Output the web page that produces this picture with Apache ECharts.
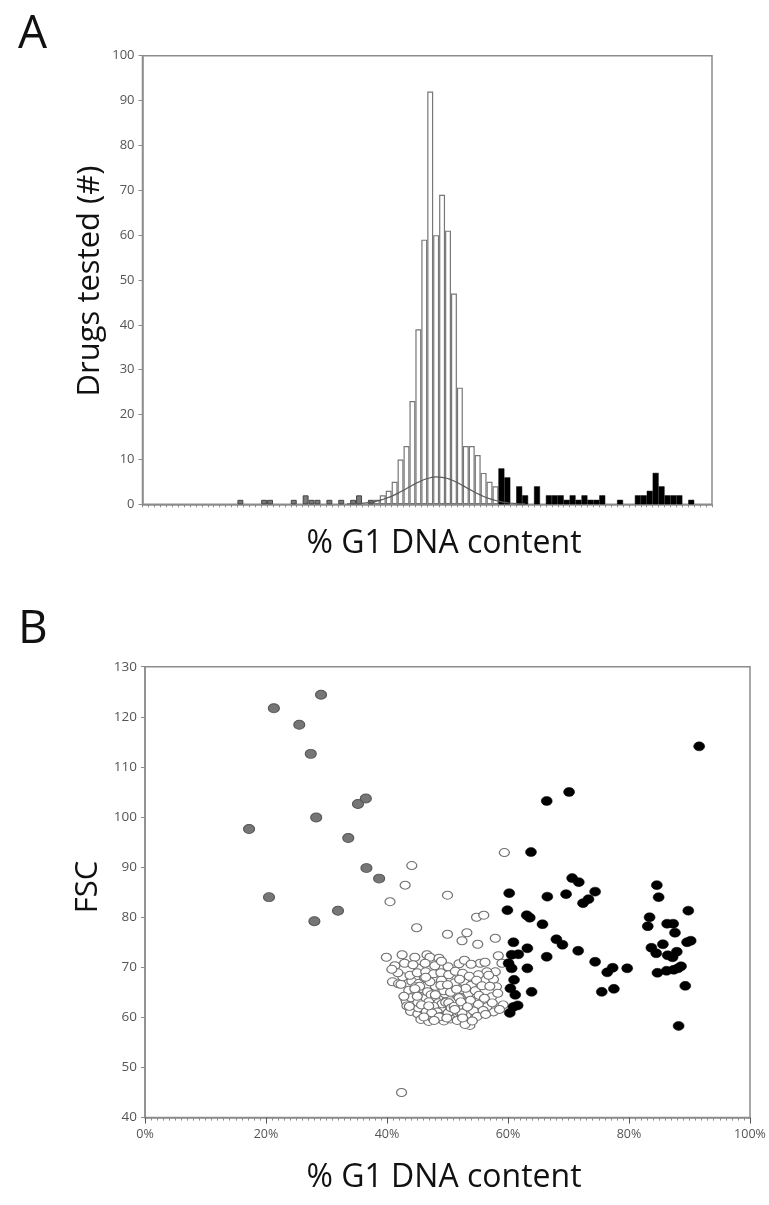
<!DOCTYPE html>
<html>
<head>
<meta charset="utf-8">
<script src="https://cdn.jsdelivr.net/npm/echarts@6/dist/echarts.min.js"></script>
<style>
html, body { margin: 0; padding: 0; background: #fff; }
#chart { width: 769px; height: 1205px; }
</style>
</head>
<body>
<div id="chart"></div>
<script>
// panel A: histogram, 1% bins, [bin, count]
var binCount = 96;
var grayBins = [[16, 1], [20, 1], [21, 1], [25, 1], [27, 2], [28, 1], [29, 1], [31, 1], [33, 1], [35, 1], [36, 2], [38, 1]];
var whiteBins = [[39, 1], [40, 2], [41, 3], [42, 5], [43, 10], [44, 13], [45, 23], [46, 39], [47, 59], [48, 92],
    [49, 60], [50, 69], [51, 61], [52, 47], [53, 26], [54, 13], [55, 13], [56, 11], [57, 7], [58, 5], [59, 4]];
var blackBins = [[60, 8], [61, 6], [63, 4], [64, 2], [66, 4], [68, 2], [69, 2], [70, 2], [71, 1], [72, 2], [73, 1],
    [74, 2], [75, 1], [76, 1], [77, 2], [80, 1], [83, 2], [84, 2], [85, 3], [86, 7], [87, 4], [88, 2], [89, 2], [90, 2], [92, 1]];
// fitted curve, [bin, value]
var curvePts = [[34, 0.1], [35, 0.12], [36, 0.17], [37, 0.29], [38, 0.47], [39, 0.72], [40, 1.08], [41, 1.54], [42, 2.1],
    [43, 2.78], [44, 3.5], [45, 4.25], [46, 4.94], [47, 5.52], [48, 5.92], [49, 6.1], [50, 6.02], [51, 5.71],
    [52, 5.2], [53, 4.54], [54, 3.8], [55, 3.06], [56, 2.37], [57, 1.75], [58, 1.25], [59, 0.85], [60, 0.56],
    [61, 0.35], [62, 0.21], [63, 0.12], [64, 0.08]];

// panel B: scatter, [% G1, FSC]
var grayPts = [[17.2, 97.6], [20.5, 84], [21.3, 121.7], [25.5, 118.4], [27.4, 112.6], [28.3, 99.9], [28.0, 79.2],
    [29.1, 124.4], [31.9, 81.3], [33.6, 95.8], [35.2, 102.6], [36.5, 103.7], [36.6, 89.8], [38.7, 87.7]];
var whitePts = [[59.4, 92.9], [44.1, 90.3], [43.0, 86.4], [40.5, 83.1], [50.0, 84.4], [54.8, 80.0], [56.0, 80.4],
    [44.9, 77.9], [50.0, 76.6], [53.2, 76.9], [52.4, 75.3], [55.0, 74.6], [57.9, 75.8], [39.9, 72.0], [42.5, 72.5],
    [44.6, 72.0], [46.6, 72.5], [47.1, 72.0], [48.6, 71.8], [51.9, 70.7], [58.4, 72.3], [41.3, 70.3], [42.9, 70.8],
    [45.2, 69.8], [50.1, 70.1], [55.4, 70.8], [56.2, 71.0], [57.9, 69.1], [59.0, 70.8], [56.5, 69.1], [55.1, 68.5],
    [57.6, 67.6], [58.1, 66.1], [54.5, 66.1], [53.2, 67.5], [51.2, 68.1], [40.9, 67.1], [41.9, 66.7], [43.0, 63.8],
    [55.9, 63.5], [57.3, 64.1], [59.2, 62.5], [57.6, 61.1], [56.5, 62.1], [42.4, 45.0], [53.7, 58.4],
    [44.1, 67.2], [45.3, 66.8], [46.2, 67.9], [47.4, 66.5], [48.3, 67.6], [49.5, 66.9], [50.6, 67.8], [51.8, 66.2],
    [52.7, 67.1], [53.9, 66.4], [43.6, 65.4], [44.8, 64.9], [45.9, 65.7], [46.8, 64.6], [47.9, 65.2], [48.8, 64.3],
    [49.9, 65.6], [51.1, 64.8], [52.3, 65.5], [53.4, 64.7], [54.6, 65.3], [43.2, 63.1], [44.4, 62.6], [45.5, 63.5],
    [46.4, 62.2], [47.3, 63.3], [48.1, 62.5], [49.2, 63.6], [50.3, 62.4], [51.4, 63.2], [52.6, 62.7], [53.8, 63.4],
    [55.1, 62.6], [43.9, 61.2], [45.1, 60.7], [46.1, 61.5], [47.0, 60.4], [47.8, 61.3], [48.7, 60.6], [49.7, 61.4],
    [50.8, 60.3], [51.9, 61.1], [53.1, 60.5], [54.3, 61.3], [45.6, 59.6], [46.9, 59.2], [48.2, 59.8], [49.4, 59.3],
    [50.5, 59.7], [51.6, 59.4], [52.9, 58.6], [44.7, 66.1], [45.8, 64.1], [46.6, 66.3], [47.6, 64.0], [48.6, 65.9],
    [49.3, 62.1], [50.1, 64.0], [50.9, 65.9], [51.7, 62.1], [52.1, 64.0], [46.0, 62.9], [47.1, 61.9], [48.4, 63.9],
    [49.8, 60.7], [50.7, 63.1], [45.2, 61.9], [44.0, 63.9], [53.0, 65.8], [52.4, 60.9], [47.5, 59.9], [42.3, 66.6],
    [42.8, 64.2], [43.3, 62.3], [42.6, 68.1], [43.8, 68.4], [45.0, 68.9], [46.4, 69.1], [47.7, 68.7], [48.9, 68.9],
    [50.2, 68.5], [51.3, 69.2], [52.5, 68.8], [53.6, 68.2], [54.8, 67.4], [55.7, 66.3], [55.2, 64.4], [56.1, 63.8],
    [55.9, 61.4], [54.9, 60.2], [54.1, 59.3], [46.3, 70.8], [47.9, 70.3], [49.0, 71.2], [52.8, 71.4], [53.9, 70.6],
    [44.3, 70.5], [41.8, 68.9], [40.8, 69.6], [57.0, 66.2], [56.8, 68.4], [58.3, 64.8], [57.4, 62.9], [58.6, 61.6],
    [56.3, 60.6], [48.0, 66.2], [49.0, 67.4], [51.2, 66.9], [47.2, 62.6], [48.9, 61.8], [50.4, 61.2], [46.3, 63.8],
    [51.9, 63.9], [49.6, 64.7], [45.4, 66.2],
    [46.7, 65.1], [47.3, 64.5], [47.9, 63.7], [48.5, 62.9], [49.1, 62.7], [49.7, 63.0], [50.2, 62.9], [46.9, 63.1],
    [47.7, 62.2], [48.3, 61.1], [48.9, 60.2], [49.5, 60.1], [50.1, 60.9], [50.6, 61.9], [51.1, 62.2], [46.5, 61.2],
    [47.4, 60.9], [48.6, 60.1], [49.9, 59.9], [47.8, 59.4], [46.1, 60.1], [45.1, 63.0], [45.7, 62.5], [46.9, 62.3],
    [48.0, 64.5], [49.4, 65.3], [50.5, 65.0], [51.5, 65.6], [52.2, 63.1], [51.2, 61.6], [47.1, 67.1], [48.9, 66.4],
    [50.0, 66.5], [44.6, 65.7], [45.0, 64.2], [43.7, 62.2], [53.3, 62.1], [52.5, 59.9], [46.4, 68.0], [52.0, 67.6]];
var blackPts = [[63.8, 93.0], [60.2, 84.8], [59.9, 81.4], [66.5, 84.1], [69.6, 84.6], [70.6, 87.8], [71.7, 87.0],
    [74.4, 85.1], [73.3, 83.6], [72.4, 82.8], [63.1, 80.4], [63.6, 79.9], [65.7, 78.6], [60.9, 75.0], [63.2, 73.8],
    [68.0, 75.6], [69.0, 74.5], [71.6, 73.3], [66.4, 72.1], [60.6, 72.5], [61.7, 72.6], [60.1, 70.8], [60.6, 69.8],
    [63.2, 69.8], [74.4, 71.1], [77.3, 69.9], [76.4, 69.0], [79.7, 69.8], [61.0, 67.5], [60.4, 65.8], [61.2, 64.5],
    [63.9, 65.1], [75.5, 65.1], [77.5, 65.7], [60.9, 62.1], [60.3, 60.9], [61.6, 62.4], [66.4, 103.2], [70.1, 105.0],
    [91.6, 114.1], [84.6, 86.4], [84.9, 84.0], [83.4, 80.0], [83.1, 78.2], [83.7, 73.9], [84.5, 72.8], [84.7, 68.9],
    [86.3, 78.7], [87.3, 78.7], [87.6, 76.9], [86.4, 72.4], [87.2, 72.0], [87.9, 73.1], [86.2, 69.3], [87.4, 69.5],
    [88.1, 69.8], [89.3, 66.3], [88.2, 58.3], [89.8, 81.3], [89.6, 75.0], [90.2, 75.3], [85.6, 74.6], [88.6, 70.2]];

var yTicksA = [0, 100, 10];
var yTicksB = [40, 130, 10];
var xTicksB = [0, 100, 20];

var fontName = 'Open Sans';
var axisGray = '#8c8c8c';
var labelGray = '#555';

function fill(pairs) {
    var arr = [];
    for (var i = 0; i < binCount; i++) arr.push(null);
    pairs.forEach(function(p) { arr[p[0]] = p[1]; });
    return arr;
}

var bins = [];
for (var i = 0; i < binCount; i++) bins.push(String(i));

var myChart = echarts.init(document.getElementById('chart'));

var option = {
    animation: false,
    backgroundColor: '#fff',
    textStyle: { fontFamily: fontName },
    grid: [{
        left: 142.5, top: 55.7, right: 57, height: 448.6,
        show: true, borderColor: axisGray, borderWidth: 1.5
    }, {
        left: 145, top: 666.7, right: 19, height: 450.9,
        show: true, borderColor: axisGray, borderWidth: 1.5
    }],
    xAxis: [{
        gridIndex: 0,
        type: 'category',
        data: bins,
        boundaryGap: true,
        axisLine: { lineStyle: { color: axisGray, width: 1.5 } },
        axisTick: { show: true, interval: 0, length: 3, lineStyle: { color: axisGray } },
        axisLabel: { show: false },
        splitLine: { show: false }
    }, {
        gridIndex: 1,
        type: 'value',
        min: xTicksB[0], max: xTicksB[1], interval: xTicksB[2],
        axisLine: { lineStyle: { color: axisGray, width: 1.5 } },
        axisTick: { length: 6, lineStyle: { color: '#555' } },
        minorTick: { show: true, splitNumber: 20, length: 3, lineStyle: { color: axisGray } },
        axisLabel: { formatter: '{value}%', fontSize: 12.5, color: labelGray, margin: 10 },
        splitLine: { show: false }
    }],
    yAxis: [{
        gridIndex: 0,
        type: 'value',
        min: yTicksA[0], max: yTicksA[1], interval: yTicksA[2],
        axisLine: { show: true, lineStyle: { color: axisGray, width: 1.5 } },
        axisTick: { show: true, length: 4, lineStyle: { color: axisGray } },
        axisLabel: { fontSize: 13, color: labelGray, margin: 8 },
        splitLine: { show: false }
    }, {
        gridIndex: 1,
        type: 'value',
        min: yTicksB[0], max: yTicksB[1], interval: yTicksB[2],
        axisLine: { show: true, lineStyle: { color: axisGray, width: 1.5 } },
        axisTick: { show: true, length: 4, lineStyle: { color: axisGray } },
        axisLabel: { fontSize: 13.5, color: labelGray, margin: 8 },
        splitLine: { show: false }
    }],
    series: [{
        name: 'gray',
        type: 'bar',
        xAxisIndex: 0, yAxisIndex: 0,
        data: fill(grayBins),
        barCategoryGap: 0,
        barGap: '-100%',
        itemStyle: { color: '#7a7a7a', borderColor: '#444', borderWidth: 1 }
    }, {
        name: 'white',
        type: 'bar',
        xAxisIndex: 0, yAxisIndex: 0,
        data: fill(whiteBins),
        barCategoryGap: 0,
        barGap: '-100%',
        itemStyle: { color: '#fff', borderColor: '#777', borderWidth: 1.2 }
    }, {
        name: 'black',
        type: 'bar',
        xAxisIndex: 0, yAxisIndex: 0,
        data: fill(blackBins),
        barCategoryGap: 0,
        barGap: '-100%',
        itemStyle: { color: '#000', borderColor: '#000', borderWidth: 0.5 }
    }, {
        name: 'fit',
        type: 'line',
        xAxisIndex: 0, yAxisIndex: 0,
        data: fill(curvePts),
        smooth: true,
        showSymbol: false,
        connectNulls: false,
        lineStyle: { color: '#5a5a5a', width: 1.2 },
        z: 5
    }, {
        name: 'grayPts',
        type: 'scatter',
        xAxisIndex: 1, yAxisIndex: 1,
        data: grayPts,
        symbol: 'circle',
        symbolSize: [11, 9],
        itemStyle: { color: '#767676', borderColor: '#555', borderWidth: 1, opacity: 1 }
    }, {
        name: 'whitePts',
        type: 'scatter',
        xAxisIndex: 1, yAxisIndex: 1,
        data: whitePts,
        symbol: 'circle',
        symbolSize: [10, 8],
        itemStyle: { color: '#fff', borderColor: '#707070', borderWidth: 1.1, opacity: 1 }
    }, {
        name: 'blackPts',
        type: 'scatter',
        xAxisIndex: 1, yAxisIndex: 1,
        data: blackPts,
        symbol: 'circle',
        symbolSize: [11, 9],
        itemStyle: { color: '#000', borderColor: '#000', borderWidth: 0.5, opacity: 1 }
    }],
    graphic: [
        { type: 'text', left: 18, top: 12, style: { text: 'A', font: '46px "' + fontName + '"', fill: '#111' } },
        { type: 'text', left: 18, top: 607, style: { text: 'B', font: '46px "' + fontName + '"', fill: '#111' } },
        { type: 'text', x: 90, y: 281, rotation: Math.PI / 2,
          style: { text: 'Drugs tested (#)', font: '31px "' + fontName + '"', fill: '#111', align: 'center', verticalAlign: 'middle' } },
        { type: 'text', x: 444, y: 544,
          style: { text: '% G1 DNA content', font: '32px "' + fontName + '"', fill: '#111', align: 'center', verticalAlign: 'middle' } },
        { type: 'text', x: 88, y: 887, rotation: Math.PI / 2,
          style: { text: 'FSC', font: '31px "' + fontName + '"', fill: '#111', align: 'center', verticalAlign: 'middle' } },
        { type: 'text', x: 444, y: 1178,
          style: { text: '% G1 DNA content', font: '32px "' + fontName + '"', fill: '#111', align: 'center', verticalAlign: 'middle' } }
    ]
};
myChart.setOption(option);
</script>
</body>
</html>
